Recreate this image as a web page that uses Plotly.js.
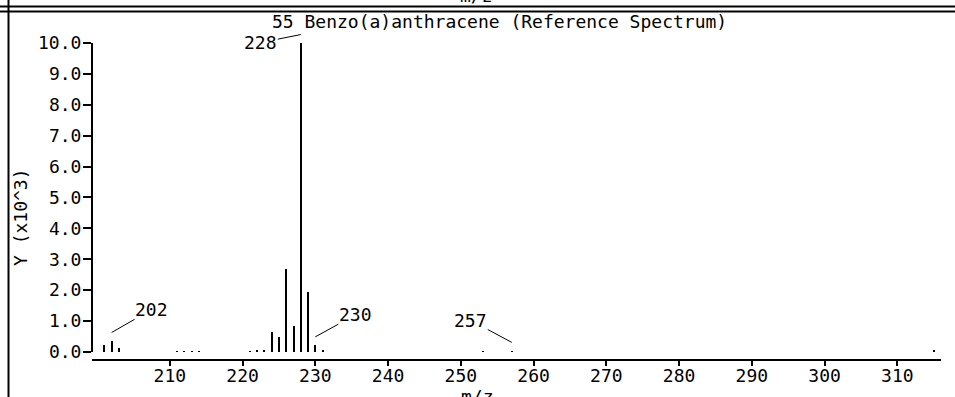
<!DOCTYPE html>
<html>
<head>
<meta charset="utf-8">
<script src="https://cdn.plot.ly/plotly-3.0.1.min.js"></script>
<style>
html,body{margin:0;padding:0;background:#fff;}
#chart{width:955px;height:397px;}
</style>
</head>
<body>
<div id="chart"></div>
<script>
// ---- data (intensity in units of 10^3) ----
const mz = [201, 202, 203, 211, 212, 213, 214, 221, 222, 223, 224, 225, 226, 227, 228, 229, 230, 231, 253, 257, 315];
const intensity = [0.22, 0.36, 0.14, 0.04, 0.04, 0.04, 0.04, 0.04, 0.05, 0.05, 0.66, 0.50, 2.68, 0.84, 10.0, 1.94, 0.22, 0.05, 0.04, 0.04, 0.05];
const labelMz = [202, 228, 230, 257];
const labelText = ['202', '228', '230', '257'];
const xTickVals = [210, 220, 230, 240, 250, 260, 270, 280, 290, 300, 310];
const yTickVals = [0, 1, 2, 3, 4, 5, 6, 7, 8, 9, 10];
const yTickText = ['0.0', '1.0', '2.0', '3.0', '4.0', '5.0', '6.0', '7.0', '8.0', '9.0', '10.0'];
const titleText = '55 Benzo(a)anthracene (Reference Spectrum)';
const xTitle = 'm/z';
const yTitle = 'Y (x10^3)';

// ---- layout helpers (pixel -> paper) ----
const L = 92, R = 941, T = 29, B = 359;
const W = 955, H = 397;
const pxX = p => (p - L) / (R - L);
const pxY = p => (B - p) / (B - T);

const FONT = {family: '"DejaVu Sans Mono", monospace', size: 18, color: '#000'};

const labelOffsets = [[40, -23], [-40, 8], [40, -22], [-41, -22]];
const labelAnns = labelMz.map((m, i) => {
  const v = intensity[mz.indexOf(m)];
  return {
    x: m, y: v + 0.27, xref: 'x', yref: 'y',
    text: labelText[i], showarrow: true, arrowhead: 0, arrowwidth: 1,
    arrowcolor: '#000', ax: labelOffsets[i][0], ay: labelOffsets[i][1],
    standoff: 0, startstandoff: 0, font: FONT, borderpad: 0
  };
});

const trace = {
  type: 'bar', x: mz, y: intensity, width: 0.28,
  marker: {color: '#000', line: {width: 0}},
  hoverinfo: 'skip'
};

const layout = {
  width: W, height: H,
  margin: {l: L, r: W - R, t: T, b: H - B, pad: 0},
  paper_bgcolor: '#fff', plot_bgcolor: '#fff',
  showlegend: false, bargap: 0,
  font: FONT,
  xaxis: {
    range: [199.3, 316.0], showgrid: false, zeroline: false,
    showline: true, linecolor: '#000', linewidth: 2,
    ticks: 'outside', ticklen: 5, tickwidth: 2, tickcolor: '#000',
    tickvals: xTickVals, ticktext: xTickVals.map(String),
    ticklabelstandoff: -6,
    tickfont: FONT, fixedrange: true
  },
  yaxis: {
    range: [-0.227, 10.45], showgrid: false, zeroline: false,
    showline: false,
    ticks: 'outside', ticklen: 8, tickwidth: 2, tickcolor: '#000',
    tickvals: yTickVals, ticktext: yTickText,
    ticklabelstandoff: -2,
    tickfont: FONT, fixedrange: true
  },
  shapes: [
    // y-axis line spanning 0..10
    {type: 'line', xref: 'paper', yref: 'y', x0: 0, x1: 0, y0: 0, y1: 10, line: {color: '#000', width: 2}},
    // frame lines
    {type: 'line', xref: 'paper', yref: 'paper', x0: pxX(0), x1: pxX(W), y0: pxY(6.5), y1: pxY(6.5), line: {color: '#000', width: 2}},
    {type: 'line', xref: 'paper', yref: 'paper', x0: pxX(0), x1: pxX(W), y0: pxY(11.5), y1: pxY(11.5), line: {color: '#000', width: 2}},
    {type: 'line', xref: 'paper', yref: 'paper', x0: pxX(8.5), x1: pxX(8.5), y0: pxY(0), y1: pxY(H), line: {color: '#000', width: 2}}
  ],
  annotations: [
    {xref: 'paper', yref: 'paper', x: pxX(499), y: pxY(22), xanchor: 'center', yanchor: 'middle',
     text: titleText, showarrow: false, font: FONT},
    {xref: 'paper', yref: 'paper', x: pxX(20), y: pxY(217), xanchor: 'center', yanchor: 'middle',
     text: yTitle, textangle: -90, showarrow: false, font: FONT},
    {xref: 'paper', yref: 'paper', x: pxX(477), y: pxY(396), xanchor: 'center', yanchor: 'middle',
     text: xTitle, showarrow: false, font: FONT},
    {xref: 'paper', yref: 'paper', x: pxX(476), y: pxY(-5), xanchor: 'center', yanchor: 'middle',
     text: xTitle, showarrow: false, font: FONT}
  ].concat(labelAnns)
};

Plotly.newPlot('chart', [trace], layout, {displayModeBar: false, staticPlot: true});
</script>
</body>
</html>
